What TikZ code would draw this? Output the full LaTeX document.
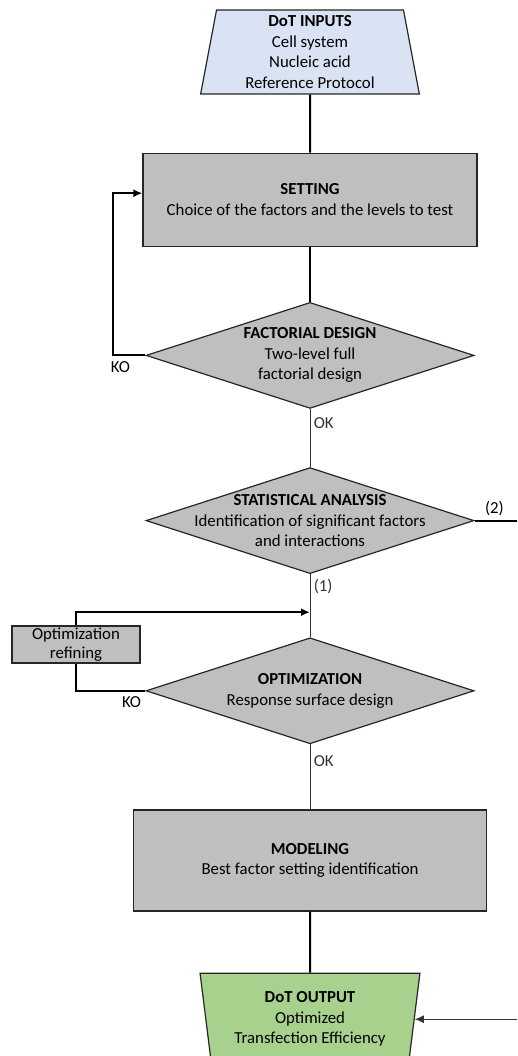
\documentclass[tikz,border=0pt]{standalone}
\usepackage{fontspec}
\setmainfont{Carlito}
\usetikzlibrary{positioning, shapes.geometric, arrows.meta}
\definecolor{inblue}{HTML}{DAE3F3}
\definecolor{boxgray}{HTML}{BFBFBF}
\definecolor{outgreen}{HTML}{A9D18E}

\begin{document}
\begin{tikzpicture}[x=1pt, y=-1pt, font=\fontsize{16.8}{20.5}\selectfont,
		b/.style={draw=black!85, line width=1.2pt, fill=boxgray, align=center},
		box/.style={b, rectangle, minimum width=334pt, minimum height=93pt},
		dia/.style={b, diamond, minimum width=328pt, minimum height=106pt, inner sep=0pt},
		io/.style={b, trapezium, trapezium stretches=true, inner sep=1pt},
		l/.style={line width=2pt},
		t/.style={line width=1pt, black!80},
		tip/.style={-{Latex[length=9pt, width=8pt]}}]
		\useasboundingbox (0,0) rectangle (517,1056);
		\clip (0,0) rectangle (517,1056);

		\node[io, fill=inblue, minimum width=219pt, minimum height=84pt, trapezium angle=81.5] (in) at (310,52) {\textbf{DoT INPUTS}\\Cell system\\Nucleic acid\\Reference Protocol};
		\node[box, below=58pt of in] (set) {\textbf{SETTING}\\Choice of the factors and the levels to test};
		\node[dia, below=55pt of set] (fact) {};
		\node[align=center] (fact_label) at (fact) {\textbf{FACTORIAL DESIGN}\\Two-level full\\factorial design};
		\node[dia, below=58pt of fact] (stat) {};
		\node[align=center] (stat_label) at (stat) {\textbf{STATISTICAL ANALYSIS}\\Identification of significant factors\\and interactions};
		\node[dia, below=63pt of stat] (opt) {};
		\node[align=center] (opt_label) at (opt) {\textbf{OPTIMIZATION}\\Response surface design};
		\node[box, below=65pt of opt, minimum width=353pt, minimum height=101pt] (model) {\textbf{MODELING}\\Best factor setting identification};
		\node[io, fill=outgreen, below=61pt of model, minimum width=220pt, minimum height=92pt, trapezium angle=81, shape border rotate=180] (out) {\textbf{DoT OUTPUT}\\Optimized\\Transfection Efficiency};
		\node[b, minimum width=128pt, minimum height=37pt, inner sep=1pt, font=\fontsize{16.8}{19}\selectfont] (ref) at (76,644.5) {Optimization\\refining};

		\coordinate (mid) at ([yshift=-38pt]stat.south);
		\coordinate (r2) at ([xshift=45pt]stat.east);
		\coordinate (r1) at ([xshift=110pt]out.east);

		\draw[l] (in) -- (set);
		\draw[l] (set) -- (fact);
		\draw[t] (fact) -- node[right, pos=.25] {OK} (stat);
		\draw[t] (stat) -- node[right, pos=.2] {(1)} (opt);
		\draw[t] (opt) -- node[right, pos=.25] {OK} (model);
		\draw[l] (model) -- (out);
		\draw[l, tip] (fact.west) -- node[below, pos=.78, yshift=-2pt] {KO} ++(-32,0) |- ([yshift=6.5pt]set.west);
		\draw[l] (stat.east) -- node[above, pos=.44] {(2)} (r2);
		\draw[l, tip] (ref.north) |- (mid);
		\draw[l] (opt.west) -- node[below, pos=.2, yshift=-1pt] {KO} (opt.west -| ref.south) -- (ref.south);
		\draw[t, tip] (r1) -- (out.east);
	\end{tikzpicture}
\end{document}
